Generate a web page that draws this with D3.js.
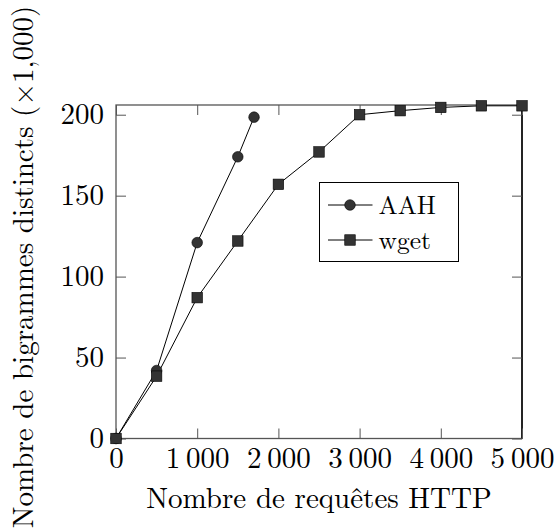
<!DOCTYPE html>
<html><head><meta charset="utf-8">
<script src="https://cdn.jsdelivr.net/npm/d3@7"></script>
<style>body{margin:0;background:#fff}svg{display:block}text{font-family:"Latin Modern Roman","CMU Serif","DejaVu Serif",serif}</style>
</head><body>
<script>
const aahX = [0, 500, 1000, 1500, 1700];
const aahY = [0, 42, 121, 174, 198.5];
const wgetX = [0, 500, 1000, 1500, 2000, 2500, 3000, 3500, 4000, 4500, 5000];
const wgetY = [0, 38.5, 87, 122, 157, 177, 200, 202.5, 204.5, 205.5, 205.5];
const xTicks = [0, 1000, 2000, 3000, 4000, 5000];
const xTickLabels = ["0", "1\u2009000", "2\u2009000", "3\u2009000", "4\u2009000", "5\u2009000"];
const yTicks = [0, 50, 100, 150, 200];
const seriesNames = ["AAH", "wget"];
const xLabel = "Nombre de requêtes HTTP";
const yLabel = "Nombre de bigrammes distincts (×1,000)";

const W = 557, H = 532;
const L = 116, R = 522, T = 105, B = 438.5;
const svg = d3.select("body").append("svg").attr("width", W).attr("height", H);
const x = d3.scaleLinear().domain([0, 5000]).range([L, R]);
const y = d3.scaleLinear().domain([0, 206]).range([B, T]);
const fs = 29;
const fill = "#333";

// frame
svg.append("rect").attr("x", L).attr("y", T).attr("width", R - L).attr("height", B - T)
  .attr("fill", "none").attr("stroke", "#555").attr("stroke-width", 1.3);
svg.append("line").attr("x1", R).attr("x2", R).attr("y1", T).attr("y2", B).attr("stroke", "#000").attr("stroke-width", 1.5);

const tl = 10;
// bottom axis
const gx = svg.append("g").attr("transform", `translate(0,${B})`)
  .call(d3.axisBottom(x).tickValues(xTicks).tickSize(-tl).tickFormat((d, i) => xTickLabels[i]));
gx.select(".domain").remove();
gx.selectAll(".tick line").attr("stroke", "#555").attr("stroke-width", 1);
gx.selectAll("text").attr("font-size", fs).attr("fill", "#000").attr("dy", null).attr("y", 29.8);
// top ticks
svg.append("g").attr("transform", `translate(0,${T})`)
  .call(d3.axisTop(x).tickValues(xTicks).tickSize(-tl).tickFormat(""))
  .call(g => { g.select(".domain").remove(); g.selectAll(".tick line").attr("stroke", "#555"); });
// left axis
const gy = svg.append("g").attr("transform", `translate(${L},0)`)
  .call(d3.axisLeft(y).tickValues(yTicks).tickSize(-tl).tickPadding(12));
gy.select(".domain").remove();
gy.selectAll(".tick line").attr("stroke", "#555");
gy.selectAll("text").attr("font-size", fs).attr("fill", "#000");
// right ticks
svg.append("g").attr("transform", `translate(${R},0)`)
  .call(d3.axisRight(y).tickValues(yTicks).tickSize(-tl).tickFormat(""))
  .call(g => { g.select(".domain").remove(); g.selectAll(".tick line").attr("stroke", "#555"); });

// labels
svg.append("text").attr("x", (L + R) / 2).attr("y", 507.5).attr("text-anchor", "middle")
  .attr("font-size", fs).text(xLabel);
svg.append("text").attr("transform", `translate(33,267) rotate(-90)`)
  .attr("text-anchor", "middle").attr("font-size", fs).text(yLabel);

// lines
const line = d3.line().x(d => x(d[0])).y(d => y(d[1]));
const aah = aahX.map((v, i) => [v, aahY[i]]);
const wget = wgetX.map((v, i) => [v, wgetY[i]]);
svg.append("path").datum(aah).attr("d", line).attr("fill", "none").attr("stroke", "#000").attr("stroke-width", 1);
svg.append("path").datum(wget).attr("d", line).attr("fill", "none").attr("stroke", "#000").attr("stroke-width", 1);
svg.selectAll(".c").data(aah).join("circle").attr("cx", d => x(d[0])).attr("cy", d => y(d[1])).attr("r", 5.3)
  .attr("fill", fill).attr("stroke", "#000").attr("stroke-width", 0.6);
const s = 10.5;
svg.selectAll(".s").data(wget).join("rect").attr("x", d => x(d[0]) - s / 2).attr("y", d => y(d[1]) - s / 2)
  .attr("width", s).attr("height", s).attr("fill", fill).attr("stroke", "#000").attr("stroke-width", 0.6);

// legend
const lx = 319.5, ly = 182.5, lw = 139, lh = 79;
svg.append("rect").attr("x", lx).attr("y", ly).attr("width", lw).attr("height", lh)
  .attr("fill", "#fff").attr("stroke", "#000").attr("stroke-width", 1);
seriesNames.forEach((n, i) => {
  const cy = ly + 22.5 + i * 35;
  svg.append("line").attr("x1", lx + 8.5).attr("x2", lx + 53).attr("y1", cy).attr("y2", cy).attr("stroke", "#000");
  if (i === 0) svg.append("circle").attr("cx", lx + 30.5).attr("cy", cy).attr("r", 5.3).attr("fill", fill).attr("stroke", "#000").attr("stroke-width", 0.6);
  else svg.append("rect").attr("x", lx + 30.5 - s / 2).attr("y", cy - s / 2).attr("width", s).attr("height", s).attr("fill", fill).attr("stroke", "#000").attr("stroke-width", 0.6);
  svg.append("text").attr("x", lx + 59).attr("y", cy).attr("dy", "0.35em").attr("font-size", 25.5).text(n);
});
</script>
</body></html>
